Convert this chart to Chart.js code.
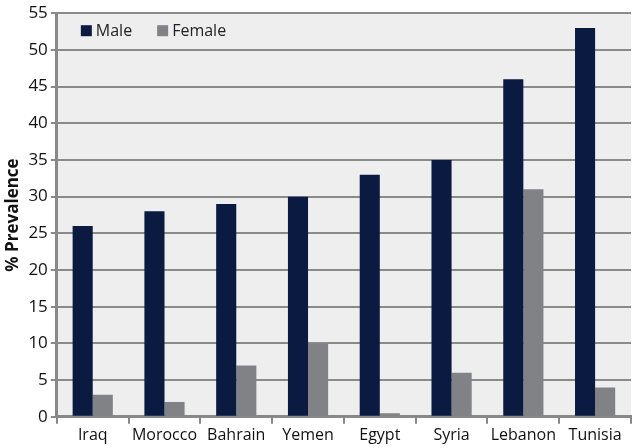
<!DOCTYPE html>
<html>
<head>
<meta charset="utf-8">
<script src="https://cdn.jsdelivr.net/npm/chart.js@4/dist/chart.umd.min.js"></script>
<style>
  html, body { margin: 0; padding: 0; background: #fff; }
  #wrap { width: 633px; height: 448px; }
</style>
</head>
<body>
<div id="wrap"><canvas id="my-chart" width="633" height="448"></canvas></div>
<script>
const countries = ["Iraq", "Morocco", "Bahrain", "Yemen", "Egypt", "Syria", "Lebanon", "Tunisia"]
const maleValues = [26, 28, 29, 30, 33, 35, 46, 53]
const femaleValues = [3, 2, 7, 10, 0.5, 6, 31, 4]

// plot background + legend inside the plot, top-left
const plotBg = {
  id: 'plotBg',
  beforeDraw(chart) {
    const { ctx, chartArea: a } = chart
    ctx.save()
    ctx.fillStyle = '#eeeeee'
    ctx.fillRect(a.left, a.top, a.right - a.left, a.bottom - a.top)
    ctx.restore()
  },
  afterDraw(chart) {
    const { ctx, chartArea: a } = chart
    ctx.save()
    ctx.font = '16px "Open Sans"'
    ctx.textBaseline = 'middle'
    let x = a.left + 24
    const y = a.top + 18
    chart.data.datasets.forEach(ds => {
      ctx.fillStyle = ds.backgroundColor
      ctx.fillRect(x, y - 6, 11, 11)
      ctx.fillStyle = '#222'
      ctx.fillText(ds.label, x + 15, y)
      x += 15 + ctx.measureText(ds.label).width + 25
    })
    ctx.restore()
  }
}

const ctx = document.getElementById('my-chart').getContext('2d')
const chart = new Chart(ctx, {
  type: 'bar',
  data: {
    labels: countries,
    datasets: [
      { label: 'Male', data: maleValues, backgroundColor: '#0a1a40' },
      { label: 'Female', data: femaleValues, backgroundColor: '#808285' }
    ]
  },
  options: {
    responsive: false,
    animation: false,
    layout: { padding: { top: 8, right: 2, bottom: 1, left: 3 } },
    datasets: { bar: { categoryPercentage: 0.56, barPercentage: 1 } },
    plugins: {
      legend: { display: false },
      tooltip: { enabled: false }
    },
    scales: {
      x: {
        grid: { offset: true, drawOnChartArea: false, color: '#888', lineWidth: 2, tickLength: 7 },
        border: { color: '#888', width: 3 },
        ticks: { color: '#111', font: { family: 'Open Sans', size: 16 }, padding: 2, maxRotation: 0, autoSkip: false }
      },
      y: {
        min: 0, max: 55,
        grid: { color: '#8a8a8a', lineWidth: 2, tickLength: 6 },
        border: { color: '#888', width: 3 },
        ticks: { stepSize: 5, color: '#111', font: { family: 'Open Sans', size: 17 }, padding: 3 },
        title: { display: true, text: '% Prevalence', color: '#111', font: { family: 'Open Sans', size: 17, weight: 'bold' }, padding: { top: 0, bottom: 2 } }
      }
    }
  },
  plugins: [plotBg]
})
</script>
</body>
</html>
